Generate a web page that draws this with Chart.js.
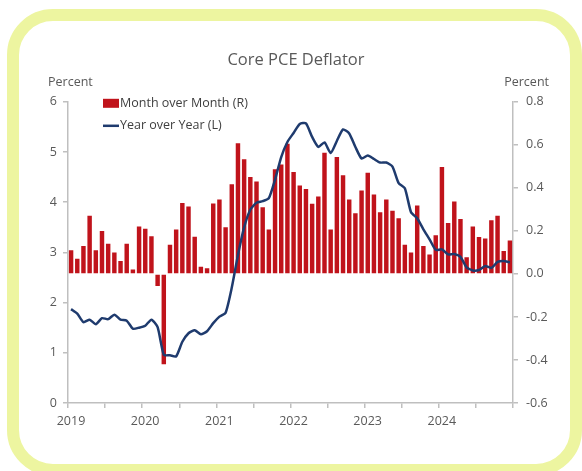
<!DOCTYPE html>
<html>
<head>
<meta charset="utf-8">
<script src="https://cdn.jsdelivr.net/npm/chart.js@4.4.0/dist/chart.umd.min.js"></script>
<style>
  html, body { margin: 0; padding: 0; background: #fff; }
  #wrap { position: relative; width: 582px; height: 471px; overflow: hidden; }
  #frame { position: absolute; left: 7px; top: 9px; width: 551px; height: 443px;
           border: 12px solid #edf5a0; border-radius: 46px; background: #fff; }
  #myChart { position: absolute; left: 0; top: 0; }
</style>
</head>
<body>
<div id="wrap">
  <div id="frame"></div>
  <canvas id="myChart" width="582" height="471"></canvas>
</div>
<script>
// years on the x axis, one tick every 12 months
const year_labels = ['2019', '2020', '2021', '2022', '2023', '2024']

// month over month, percent (right axis), Jan 2019 .. Dec 2024
const mom_values = [
  0.11, 0.07, 0.13, 0.27, 0.11, 0.20, 0.14, 0.10, 0.06, 0.14, 0.02, 0.22,
  0.21, 0.175, -0.056, -0.42, 0.135, 0.206, 0.33, 0.313, 0.173, 0.033, 0.026, 0.327,
  0.346, 0.217, 0.417, 0.607, 0.533, 0.451, 0.429, 0.31, 0.206, 0.487, 0.508, 0.605,
  0.474, 0.411, 0.395, 0.326, 0.36, 0.563, 0.206, 0.543, 0.459, 0.346, 0.282, 0.388,
  0.47, 0.369, 0.287, 0.346, 0.294, 0.259, 0.136, 0.10, 0.318, 0.13, 0.09, 0.18,
  0.497, 0.237, 0.337, 0.255, 0.078, 0.22, 0.172, 0.165, 0.25, 0.27, 0.106, 0.155
]

// year over year, percent (left axis)
const yoy_values = [
  1.87, 1.78, 1.61, 1.66, 1.57, 1.69, 1.67, 1.76, 1.66, 1.64, 1.48, 1.50,
  1.54, 1.66, 1.51, 0.96, 0.95, 0.93, 1.22, 1.39, 1.45, 1.37, 1.43, 1.59,
  1.72, 1.80, 2.30, 2.95, 3.50, 3.85, 3.99, 4.02, 4.08, 4.45, 4.90, 5.20,
  5.38, 5.56, 5.57, 5.30, 5.10, 5.19, 4.98, 5.22, 5.45, 5.37, 5.10, 4.87,
  4.93, 4.86, 4.79, 4.79, 4.71, 4.38, 4.28, 3.80, 3.68, 3.46, 3.26, 3.05,
  3.06, 2.96, 2.97, 2.91, 2.70, 2.64, 2.65, 2.73, 2.69, 2.81, 2.83, 2.80
]

const font_family = '"Open Sans", "Noto Sans", sans-serif'
const axis_grey = '#bfbfbf'
const text_grey = '#595959'
const bar_red = '#c0131b'
const line_blue = '#1f3b6e'

// month i sits in the middle of its slot
const mom_points = mom_values.map((v, i) => ({ x: i + 0.5, y: v }))
const yoy_points = yoy_values.map((v, i) => ({ x: i + 0.5, y: v }))

// axis captions and the legend, drawn inside the plot
const overlay = {
    id: 'overlay',
    afterDraw(chart) {
        const ctx = chart.ctx
        const a = chart.chartArea
        ctx.save()
        ctx.font = '12.5px ' + font_family
        ctx.textBaseline = 'middle'
        ctx.fillStyle = text_grey
        ctx.textAlign = 'left'
        ctx.fillText('Percent', a.left - 20, a.top - 19)
        ctx.textAlign = 'right'
        ctx.fillText('Percent', a.right + 36, a.top - 19)

        // legend
        const lx = a.left + 35
        ctx.fillStyle = bar_red
        ctx.fillRect(lx, a.top - 3, 16, 9)
        ctx.strokeStyle = line_blue
        ctx.lineWidth = 2.5
        ctx.beginPath()
        ctx.moveTo(lx, a.top + 24)
        ctx.lineTo(lx + 16, a.top + 24)
        ctx.stroke()
        ctx.fillStyle = '#404040'
        ctx.textAlign = 'left'
        ctx.fillText('Month over Month (R)', lx + 17, a.top + 2)
        ctx.fillText('Year over Year (L)', lx + 17, a.top + 24)
        ctx.restore()
    }
}

const tick_font = { family: font_family, size: 12.5 }

const chart_pce = document.getElementById('myChart')
let c = new Chart(chart_pce, {
    type: 'bar',
    data: {
        datasets: [{
            type: 'bar',
            label: 'Month over Month (R)',
            data: mom_points,
            yAxisID: 'yR',
            backgroundColor: bar_red,
            borderWidth: 0,
            categoryPercentage: 0.8,
            barPercentage: 0.9,
            order: 1
        }, {
            type: 'line',
            label: 'Year over Year (L)',
            data: yoy_points,
            yAxisID: 'yL',
            borderColor: line_blue,
            backgroundColor: line_blue,
            borderWidth: 2.5,
            pointRadius: 0,
            tension: 0.2,
            order: 0
        }]
    },
    options: {
        responsive: false,
        animation: false,
        layout: {
            padding: { left: 40, right: 30, top: 40, bottom: 30 }
        },
        scales: {
            x: {
                type: 'linear',
                position: 'bottom',
                min: 0,
                max: 72,
                offset: false,
                afterFit: s => { s.height = 38 },
                ticks: {
                    stepSize: 6,
                    autoSkip: false,
                    maxRotation: 0,
                    color: text_grey,
                    font: tick_font,
                    padding: 6,
                    labelOffset: 3,
                    callback: v => (v % 12 === 0 && v < 72) ? year_labels[v / 12] : ''
                },
                grid: {
                    offset: false,
                    drawOnChartArea: false,
                    tickLength: 5,
                    color: axis_grey,
                    lineWidth: 1.5
                },
                border: { color: axis_grey, width: 1.5 }
            },
            yL: {
                position: 'left',
                min: 0,
                max: 6,
                afterFit: s => { s.width = 28 },
                ticks: {
                    stepSize: 1,
                    color: text_grey,
                    font: tick_font,
                    padding: 6
                },
                grid: {
                    drawOnChartArea: false,
                    tickLength: 5,
                    color: axis_grey,
                    lineWidth: 1.5
                },
                border: { color: axis_grey, width: 1.5 }
            },
            yR: {
                position: 'right',
                min: -0.6,
                max: 0.8,
                afterFit: s => { s.width = 39 },
                ticks: {
                    stepSize: 0.2,
                    color: text_grey,
                    font: tick_font,
                    padding: 8,
                    callback: v => Math.abs(v) < 1e-9 ? '0.0' : Number(v).toFixed(1)
                },
                grid: {
                    drawOnChartArea: false,
                    tickLength: 5,
                    color: axis_grey,
                    lineWidth: 1.5
                },
                border: { color: axis_grey, width: 1.5 }
            }
        },
        plugins: {
            title: {
                display: true,
                text: 'Core PCE Deflator',
                color: text_grey,
                font: { family: font_family, size: 16.5, weight: 'normal' },
                padding: { top: 10, bottom: 32 }
            },
            legend: { display: false },
            tooltip: { enabled: false }
        }
    },
    plugins: [overlay]
});
</script>
</body>
</html>
